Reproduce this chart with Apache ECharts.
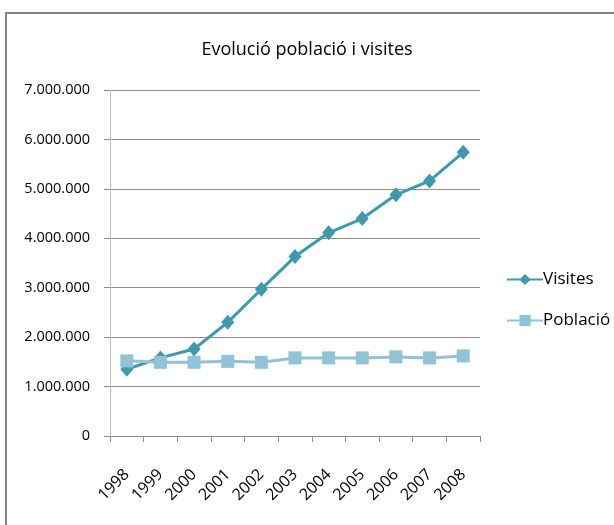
<!DOCTYPE html>
<html>
<head>
<meta charset="utf-8">
<script src="https://cdn.jsdelivr.net/npm/echarts@6/dist/echarts.min.js"></script>
<style>html,body{margin:0;padding:0;background:#fff;}#c{width:614px;height:525px;}</style>
</head>
<body>
<div id="c"></div>
<script>
const years = ['1998','1999','2000','2001','2002','2003','2004','2005','2006','2007','2008'];
const visites = [1350000,1580000,1760000,2300000,2970000,3630000,4110000,4400000,4880000,5160000,5740000];
const poblacio = [1520000,1490000,1490000,1510000,1490000,1580000,1580000,1580000,1600000,1580000,1620000];
const seriesNames = ['Visites','Població'];
const titleText = 'Evolució població i visites';

const FONT = "'Open Sans', sans-serif";
const chart = echarts.init(document.getElementById('c'), null, {renderer:'canvas'});
function fmt(v){ return String(v).replace(/\B(?=(\d{3})+(?!\d))/g,'.'); }
chart.setOption({
  animation:false,
  backgroundColor:'#fff',
  graphic:[{type:'rect',shape:{x:6,y:13,width:700,height:600},style:{fill:'none',stroke:'#868686',lineWidth:2},silent:true}],
  title:{text:titleText,left:'center',top:36,textStyle:{fontFamily:FONT,fontSize:18,fontWeight:'normal',color:'#000'}},
  legend:{orient:'vertical',left:501,top:266,itemGap:24,itemWidth:36,itemHeight:14,
    textStyle:{fontFamily:FONT,fontSize:17,color:'#000',padding:[0,0,0,-5]},
    data:seriesNames},
  grid:{left:110,right:134,top:90,bottom:89},
  xAxis:{type:'category',data:years,boundaryGap:true,
    axisLine:{lineStyle:{color:'#8c8c8c',width:1}},
    axisTick:{show:true,length:6,lineStyle:{color:'#8c8c8c'}},
    axisLabel:{rotate:45,margin:36,padding:[12,0,0,0],fontFamily:FONT,fontSize:16,color:'#000',interval:0}},
  yAxis:{type:'value',min:0,max:7000000,interval:1000000,
    axisLine:{show:true,lineStyle:{color:'#bdbdbd',width:1}},
    axisTick:{show:true,length:6,lineStyle:{color:'#8c8c8c'}},
    axisLabel:{margin:20,fontFamily:FONT,fontSize:14.5,color:'#000',formatter:fmt},
    splitLine:{show:true,lineStyle:{color:'#8c8c8c',width:1}}},
  series:[
    {name:seriesNames[0],type:'line',data:visites,symbol:'diamond',symbolSize:[13,15],
     lineStyle:{color:'#3e99af',width:3},itemStyle:{color:'#3e99af'},z:2},
    {name:seriesNames[1],type:'line',data:poblacio,symbol:'rect',symbolSize:13,
     lineStyle:{color:'#90c3d5',width:3},itemStyle:{color:'#90c3d5'},z:3}
  ]
});
</script>
</body>
</html>
